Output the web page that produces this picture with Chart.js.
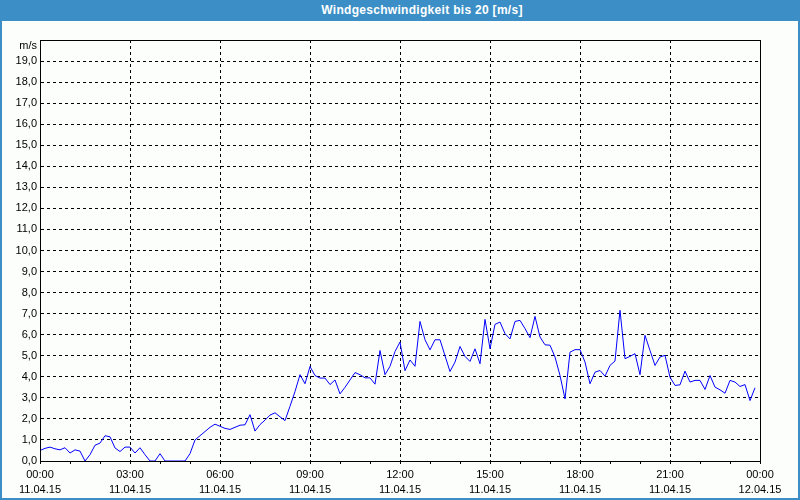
<!DOCTYPE html>
<html>
<head>
<meta charset="utf-8">
<script src="https://cdn.jsdelivr.net/npm/chart.js@4"></script>
<style>
  html, body { margin: 0; padding: 0; }
  body { width: 800px; height: 500px; background: #3c8fc6; position: relative; overflow: hidden; }
  #titlebar {
    position: absolute; left: 0; top: 0; width: 800px; height: 21px;
    color: #fff; font: bold 12px "Liberation Sans", Arial, sans-serif;
    line-height: 21px; text-align: center; box-sizing: border-box; padding-left: 44px;
    letter-spacing: 0.3px;
  }
  #panel { position: absolute; left: 2px; top: 21px; width: 796px; height: 477px; background: #fcfefc; }
</style>
</head>
<body>
<div id="titlebar">Windgeschwindigkeit bis 20 [m/s]</div>
<div id="panel"><canvas id="chart" width="796" height="477"></canvas></div>
<script>
// wind speed in m/s, one reading every 10 minutes from 11.04.15 00:00
const windSpeed = [
  0.5, 0.6, 0.66, 0.58, 0.53, 0.63, 0.38, 0.53, 0.47, 0.0,
  0.3, 0.75, 0.85, 1.2, 1.15, 0.62, 0.45, 0.66, 0.66, 0.38,
  0.63, 0.3, 0, 0, 0.35, 0, 0, 0, 0, 0,
  0.35, 1.0, 1.2, 1.4, 1.6, 1.75, 1.65, 1.55, 1.5, 1.6,
  1.7, 1.72, 2.2, 1.42, 1.73, 1.94, 2.18, 2.29, 2.1, 1.92,
  2.6, 3.3, 4.1, 3.67, 4.49, 4.06, 3.94, 3.94, 3.63, 3.85,
  3.19, 3.5, 3.85, 4.2, 4.1, 3.95, 3.95, 3.65, 5.25, 4.1,
  4.5, 5.2, 5.65, 4.29, 4.8, 4.5, 6.63, 5.76, 5.28, 5.76,
  5.76, 5.0, 4.25, 4.7, 5.44, 4.97, 4.73, 5.33, 4.62, 6.73,
  5.33, 6.49, 6.6, 6.05, 5.8, 6.63, 6.68, 6.29, 5.86, 6.87,
  5.89, 5.52, 5.5, 4.94, 4.06, 2.95, 5.17, 5.29, 5.29, 4.7,
  3.67, 4.22, 4.3, 4.03, 4.54, 4.75, 7.16, 4.86, 4.97, 5.1,
  4.1, 5.97, 5.25, 4.54, 4.94, 5.02, 3.98, 3.59, 3.62, 4.27,
  3.75, 3.83, 3.83, 3.4, 4.06, 3.51, 3.38, 3.22, 3.83, 3.75,
  3.54, 3.63, 2.87, 3.48
];
const stepMinutes = 10;
const minutes = windSpeed.map((v, i) => i * stepMinutes);

// x tick labels every 3 hours
const tickTimes = ['00:00', '03:00', '06:00', '09:00', '12:00', '15:00', '18:00', '21:00', '00:00'];
const tickDates = ['11.04.15', '11.04.15', '11.04.15', '11.04.15', '11.04.15', '11.04.15', '11.04.15', '11.04.15', '12.04.15'];

const points = minutes.map((m, i) => ({ x: m, y: windSpeed[i] }));

// solid frame round the plot (drawn last so the axis line covers zero readings)
const framePlugin = {
  id: 'frame',
  afterDraw(chart) {
    const ctx = chart.ctx;
    const a = chart.chartArea;
    const l = Math.round(a.left) + 0.5, r = Math.round(a.right) + 0.5;
    const t = Math.round(a.top) + 0.5, b = Math.round(a.bottom) + 0.5;
    ctx.save();
    ctx.strokeStyle = '#000';
    ctx.lineWidth = 1;
    ctx.strokeRect(l, t, r - l, b - t);
    ctx.fillStyle = '#000';
    ctx.font = '11px "Liberation Sans", Arial, sans-serif';
    ctx.textAlign = 'right';
    ctx.textBaseline = 'middle';
    ctx.fillText('m/s', a.left - 3, a.top + 6);
    ctx.restore();
  }
};

const tickFont = { family: '"Liberation Sans", Arial, sans-serif', size: 11, lineHeight: '15px' };

new Chart(document.getElementById('chart'), {
  type: 'line',
  data: {
    datasets: [{
      data: points,
      borderColor: '#0000ff',
      borderWidth: 1,
      pointRadius: 0,
      tension: 0,
      fill: false
    }]
  },
  options: {
    responsive: false,
    animation: false,
    layout: { padding: { top: 19, right: 38, left: 0, bottom: 0 } },
    plugins: { legend: { display: false }, tooltip: { enabled: false } },
    scales: {
      x: {
        type: 'linear',
        min: 0,
        max: 1440,
        afterFit(scale) { scale.height = 37; },
        afterBuildTicks(scale) {
          scale.ticks = [];
          for (let m = 0; m <= 1440; m += 60) scale.ticks.push({ value: m });
        },
        ticks: {
          autoSkip: false,
          maxRotation: 0,
          padding: 3,
          color: '#000',
          font: tickFont,
          callback(value) {
            if (value % 180 !== 0) return '';
            const k = value / 180;
            return [tickTimes[k], tickDates[k]];
          }
        },
        grid: {
          color: (c) => (c.tick && c.tick.value % 180 === 0 ? '#000' : 'rgba(0,0,0,0)'),
          tickColor: '#000',
          tickLength: 3,
          lineWidth: 1
        },
        border: { color: '#000', width: 1, dash: [3, 3] }
      },
      y: {
        min: 0,
        max: 20,
        afterFit(scale) { scale.width = 38; },
        ticks: {
          stepSize: 1,
          padding: 3,
          color: '#000',
          font: tickFont,
          callback(value) {
            if (value >= 20) return '';
            return value.toFixed(1).replace('.', ',');
          }
        },
        grid: { color: '#000', drawTicks: false, lineWidth: 1 },
        border: { color: '#000', width: 1, dash: [3, 3] }
      }
    }
  },
  plugins: [framePlugin]
});
</script>
</body>
</html>
